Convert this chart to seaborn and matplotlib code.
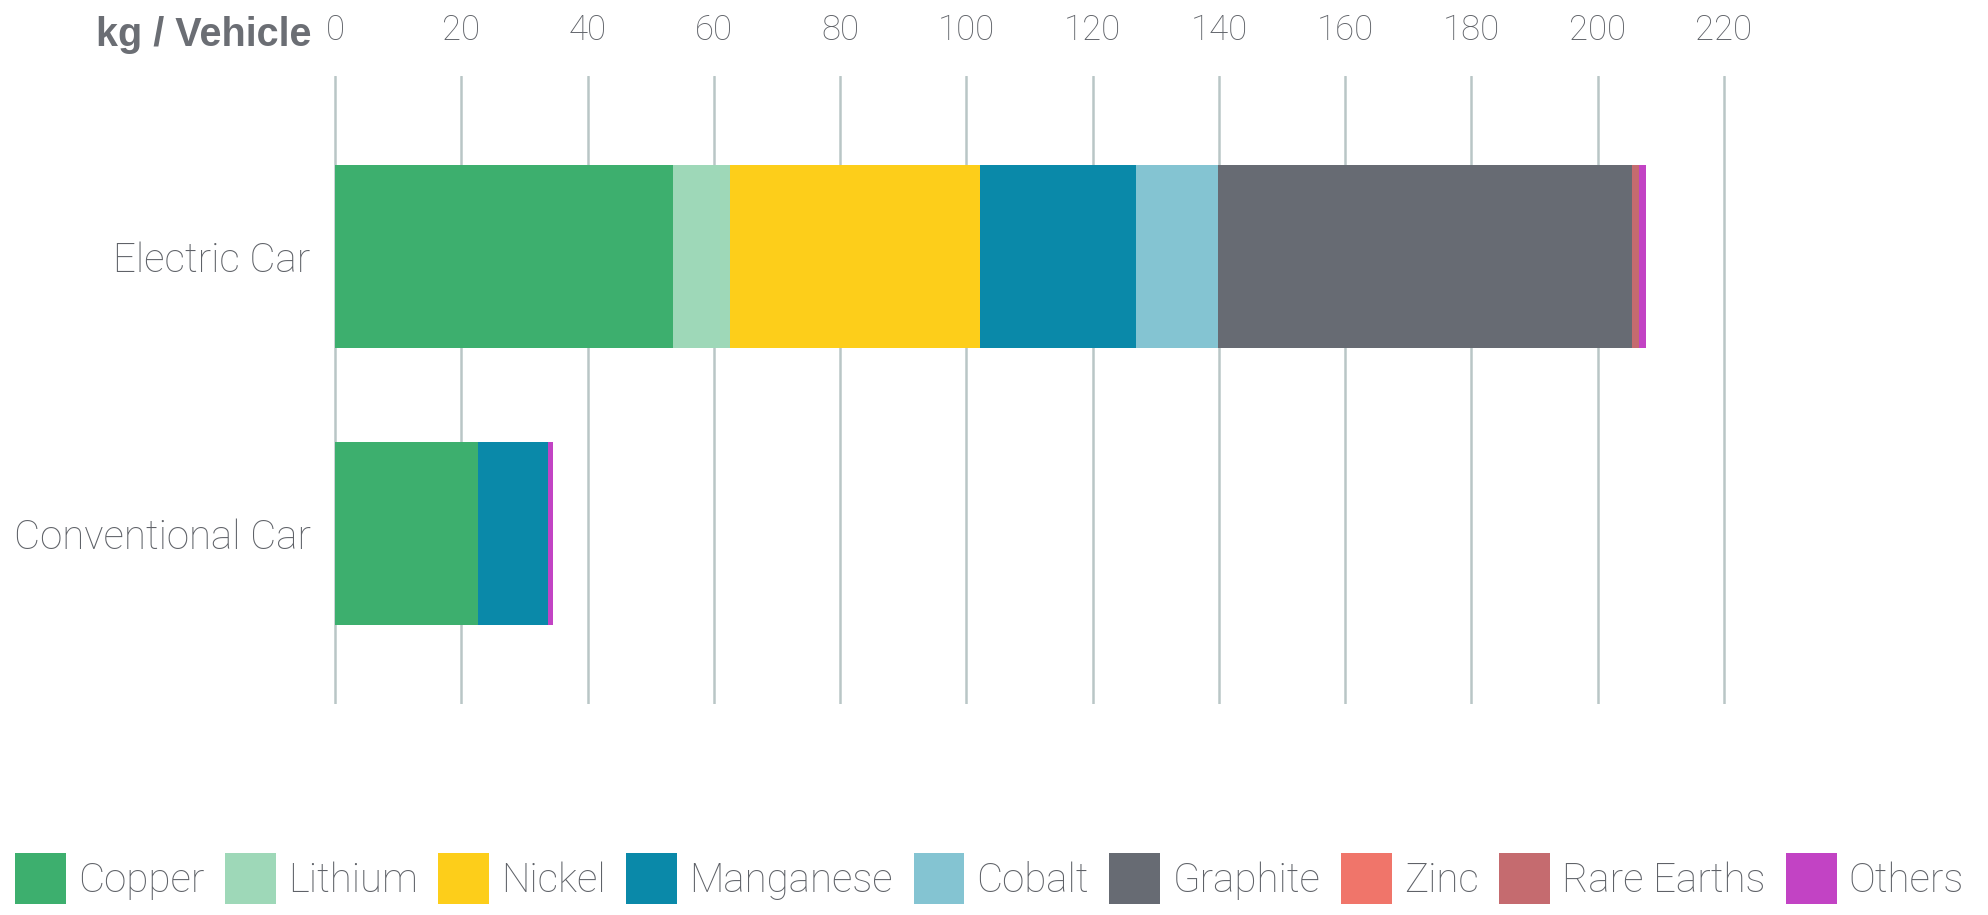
import matplotlib
matplotlib.use("Agg")
import matplotlib.pyplot as plt
from matplotlib.patches import Patch
import seaborn as sns
import pandas as pd
import numpy as np

categories = ["Electric Car", "Conventional Car"]
materials = ["Copper", "Lithium", "Nickel", "Manganese", "Cobalt",
             "Graphite", "Zinc", "Rare Earths", "Others"]
electric_car = [53.5, 9.0, 39.6, 24.7, 13.0, 65.6, 0.1, 1.1, 1.1]
conventional_car = [22.6, 0.0, 0.0, 11.1, 0.0, 0.0, 0.0, 0.0, 0.8]
colors = ["#3DAF6E", "#9ED8B8", "#FDCE1A", "#0A89A9", "#84C4D2",
          "#676B73", "#F0756A", "#C56B6F", "#C243C4"]
x_ticks = [0, 20, 40, 60, 80, 100, 120, 140, 160, 180, 200, 220]
axis_title = "kg / Vehicle"

sns.set_theme(style="white")
plt.rcParams["font.family"] = ["Roboto", "Liberation Sans", "DejaVu Sans"]
plt.rcParams["font.weight"] = "light"

TEXT = "#5F6268"
TITLE = "#6B6E74"
GRID = "#B9C6C6"

rows = []
for cat, vals in zip(categories, [electric_car, conventional_car]):
    cum = np.cumsum(vals)
    for m, v, c in zip(materials, vals, cum):
        rows.append({"category": cat, "material": m, "value": v, "cum": c})
df = pd.DataFrame(rows)

fig = plt.figure(figsize=(19.88, 9.15), dpi=100)
W, H = 1988, 915
x0px, x1px = 328.7, 1730.3
ax = fig.add_axes([x0px / W, (H - 704) / H, (x1px - x0px) / W, (704 - 76) / H])

# stacked bars: cumulative totals, drawn from the largest down
for m, col in reversed(list(zip(materials, colors))):
    sub = df[df["material"] == m]
    sns.barplot(data=sub, x="cum", y="category", order=categories,
                color=col, width=0.66, saturation=1, ax=ax,
                edgecolor="none", linewidth=0, zorder=3)

ax.set_xlim(-1, 221)
ax.set_ylim(1.614, -0.653)
ax.set_xticks(x_ticks)
ax.set_xticklabels([str(t) for t in x_ticks])
ax.xaxis.tick_top()
ax.grid(axis="x", color=GRID, linewidth=1.8, zorder=0)
ax.grid(axis="y", visible=False)
ax.set_axisbelow(True)
for s in ax.spines.values():
    s.set_visible(False)
ax.set_xlabel("")
ax.set_ylabel("")
ax.tick_params(axis="x", length=0, pad=21, labelsize=25, labelcolor=TEXT)
ax.tick_params(axis="y", length=0, pad=13, labelsize=29, labelcolor=TEXT)
for t in ax.get_xticklabels() + ax.get_yticklabels():
    t.set_fontweight("light")

fig.text(311 / W, 1 - 46.5 / H, axis_title, ha="right", va="baseline",
         fontsize=28.5, fontweight="bold", color=TITLE,
         family=["Liberation Sans", "DejaVu Sans"])

handles = [Patch(facecolor=c, edgecolor="none") for c in colors]
leg = fig.legend(handles, materials, loc="center",
                 bbox_to_anchor=(15 / W, (H - 904) / H, 1949 / W, 51 / H),
                 mode="expand", ncol=9, frameon=False,
                 handlelength=1.26, handleheight=1.55, handletextpad=0.3,
                 columnspacing=0.3, borderaxespad=0, borderpad=0,
                 prop={"weight": "light", "size": 29})
for t in leg.get_texts():
    t.set_color(TEXT)

fig.savefig("out.png", dpi=100, facecolor="white")
